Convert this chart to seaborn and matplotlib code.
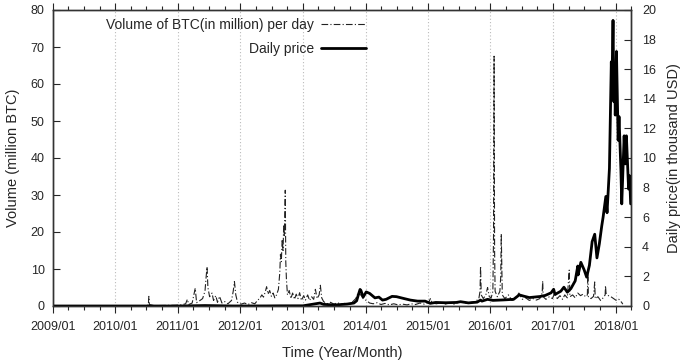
import matplotlib
matplotlib.use("Agg")
import matplotlib.pyplot as plt
import matplotlib.dates as mdates
import seaborn as sns
import pandas as pd

# ---------------- data ----------------
vol_dates = [
    "2009-01-01", "2010-07-01", "2010-07-12", "2010-07-15", "2010-07-18", "2010-08-15",
    "2010-10-15", "2010-12-15", "2011-01-20", "2011-02-15", "2011-02-25", "2011-03-05",
    "2011-03-25", "2011-04-12", "2011-04-20", "2011-05-10", "2011-05-25", "2011-06-08",
    "2011-06-14", "2011-06-20", "2011-06-25", "2011-07-05", "2011-07-19", "2011-07-28",
    "2011-08-10", "2011-08-20", "2011-09-01", "2011-09-15", "2011-10-01", "2011-10-20",
    "2011-11-10", "2011-11-20", "2011-11-27", "2011-12-05", "2011-12-15", "2012-01-05",
    "2012-01-25", "2012-02-15", "2012-03-05", "2012-03-25", "2012-04-10", "2012-04-25",
    "2012-05-05", "2012-05-15", "2012-05-25", "2012-06-02", "2012-06-10", "2012-06-20",
    "2012-06-30", "2012-07-10", "2012-07-20", "2012-07-30", "2012-08-10", "2012-08-18",
    "2012-08-22", "2012-08-27", "2012-09-01", "2012-09-06", "2012-09-10", "2012-09-14",
    "2012-09-19", "2012-09-22", "2012-09-26", "2012-10-02", "2012-10-12", "2012-10-22",
    "2012-11-01", "2012-11-12", "2012-11-22", "2012-12-02", "2012-12-12", "2012-12-22",
    "2013-01-05", "2013-01-15", "2013-01-28", "2013-02-08", "2013-02-20", "2013-03-04",
    "2013-03-14", "2013-03-24", "2013-04-05", "2013-04-12", "2013-04-20", "2013-05-01",
    "2013-05-20", "2013-06-10", "2013-07-01", "2013-07-20", "2013-08-10", "2013-09-01",
    "2013-09-20", "2013-10-10", "2013-10-25", "2013-11-05", "2013-11-18", "2013-11-28",
    "2013-12-08", "2013-12-18", "2014-01-05", "2014-01-25", "2014-02-15", "2014-03-10",
    "2014-04-01", "2014-04-25", "2014-05-20", "2014-06-15", "2014-07-10", "2014-08-05",
    "2014-09-01", "2014-09-25", "2014-10-20", "2014-11-15", "2014-12-10", "2015-01-05",
    "2015-01-15", "2015-01-25", "2015-02-20", "2015-03-15", "2015-04-10", "2015-05-05",
    "2015-06-01", "2015-06-25", "2015-07-20", "2015-08-15", "2015-09-10", "2015-10-05",
    "2015-10-25", "2015-11-01", "2015-11-04", "2015-11-08", "2015-11-20", "2015-12-05",
    "2015-12-15", "2015-12-25", "2016-01-05", "2016-01-15", "2016-01-19", "2016-01-22",
    "2016-01-25", "2016-01-28", "2016-02-10", "2016-02-25", "2016-03-01", "2016-03-04",
    "2016-03-07", "2016-03-10", "2016-03-25", "2016-04-15", "2016-05-05", "2016-05-25",
    "2016-06-15", "2016-07-05", "2016-07-25", "2016-08-15", "2016-09-05", "2016-09-25",
    "2016-10-15", "2016-10-29", "2016-11-01", "2016-11-04", "2016-11-20", "2016-12-10",
    "2016-12-28", "2017-01-10", "2017-01-25", "2017-02-10", "2017-02-25", "2017-03-10",
    "2017-03-25", "2017-04-05", "2017-04-09", "2017-04-25", "2017-05-10", "2017-05-25",
    "2017-06-10", "2017-06-25", "2017-07-10", "2017-07-20", "2017-07-23", "2017-07-26",
    "2017-08-10", "2017-08-25", "2017-09-01", "2017-09-04", "2017-09-20", "2017-10-05",
    "2017-10-20", "2017-11-01", "2017-11-03", "2017-11-06", "2017-11-20", "2017-12-05",
    "2017-12-20", "2018-01-05", "2018-01-20", "2018-02-05", "2018-02-12",
]
vol_values = [
    0.0, 0.0, 0.3, 2.6, 0.4, 0.1,
    0.15, 0.2, 0.3, 0.6, 1.8, 0.4,
    0.8, 4.8, 0.9, 1.5, 2.0, 4.0,
    7.5, 10.6, 5.0, 2.5, 3.5, 1.5,
    2.8, 1.0, 2.6, 0.8, 1.2, 0.6,
    1.5, 4.0, 6.6, 3.0, 1.0, 0.5,
    0.8, 0.4, 0.9, 0.6, 1.5, 2.2,
    3.0, 2.4, 3.8, 5.2, 3.2, 4.2,
    2.6, 3.5, 2.2, 3.0, 4.5, 9.0,
    14.0, 12.0, 18.0, 15.0, 22.0, 19.0,
    31.3, 12.0, 7.0, 3.0, 4.2, 2.0,
    3.5, 1.8, 3.2, 2.0, 3.6, 1.5,
    2.8, 1.6, 3.0, 1.5, 2.5, 1.8,
    4.5, 2.0, 3.0, 5.6, 2.2, 1.2,
    0.6, 1.0, 0.5, 0.9, 0.5, 0.7,
    0.4, 0.8, 1.5, 2.0, 3.5, 3.2,
    2.8, 2.0, 1.5, 0.8, 0.6, 0.9,
    0.4, 0.7, 0.3, 0.6, 0.3, 0.5,
    0.3, 0.6, 0.4, 0.8, 0.5, 1.0,
    2.0, 0.8, 0.6, 0.9, 0.5, 0.8,
    0.5, 0.9, 1.2, 0.7, 1.0, 1.2,
    2.0, 4.0, 10.8, 3.0, 2.0, 3.0,
    5.0, 2.5, 2.2, 4.0, 20.0, 67.5,
    15.0, 4.0, 2.5, 4.0, 8.0, 19.5,
    12.0, 3.0, 2.0, 3.0, 1.5, 2.0,
    3.5, 1.8, 2.2, 1.5, 2.0, 1.6,
    2.0, 3.5, 6.8, 2.5, 1.8, 2.5,
    2.0, 3.5, 2.0, 2.8, 1.8, 3.0,
    2.2, 9.7, 2.5, 3.0, 2.2, 3.5,
    2.8, 3.2, 2.5, 3.0, 8.9, 2.5,
    2.0, 2.6, 6.5, 2.0, 2.5, 1.5,
    2.2, 3.0, 5.5, 3.5, 2.8, 2.5,
    2.0, 1.5, 1.8, 1.0, 0.5,
]

price_dates = [
    "2009-01-01", "2010-07-15", "2011-01-01", "2011-06-08", "2011-11-20", "2012-06-01",
    "2012-08-15", "2013-01-01", "2013-04-10", "2013-05-01", "2013-07-05", "2013-09-15",
    "2013-10-25", "2013-11-10", "2013-11-20", "2013-11-30", "2013-12-05", "2013-12-18",
    "2014-01-05", "2014-01-25", "2014-02-25", "2014-03-20", "2014-04-10", "2014-05-01",
    "2014-06-05", "2014-07-01", "2014-08-15", "2014-09-20", "2014-11-01", "2014-12-15",
    "2015-01-14", "2015-02-15", "2015-04-15", "2015-06-15", "2015-07-10", "2015-08-25",
    "2015-10-15", "2015-11-04", "2015-11-12", "2015-12-15", "2016-01-15", "2016-03-15",
    "2016-05-15", "2016-06-17", "2016-07-15", "2016-08-15", "2016-10-15", "2016-11-15",
    "2016-12-20", "2017-01-04", "2017-01-12", "2017-02-15", "2017-03-05", "2017-03-25",
    "2017-04-15", "2017-05-10", "2017-05-25", "2017-05-27", "2017-06-12", "2017-07-01",
    "2017-07-16", "2017-08-01", "2017-08-17", "2017-09-01", "2017-09-14", "2017-09-28",
    "2017-10-12", "2017-10-20", "2017-11-05", "2017-11-12", "2017-11-26", "2017-12-07",
    "2017-12-10", "2017-12-17", "2017-12-22", "2017-12-27", "2017-12-30", "2018-01-06",
    "2018-01-16", "2018-01-21", "2018-02-01", "2018-02-06", "2018-02-20", "2018-02-26",
    "2018-03-05", "2018-03-18", "2018-03-24", "2018-03-30",
]
price_values = [
    0.0, 0.0001, 0.0003, 0.03, 0.002, 0.005,
    0.012, 0.013, 0.2, 0.11, 0.07, 0.13,
    0.2, 0.35, 0.75, 1.12, 1.05, 0.6,
    0.95, 0.85, 0.55, 0.6, 0.4, 0.45,
    0.65, 0.63, 0.5, 0.4, 0.33, 0.33,
    0.18, 0.24, 0.22, 0.24, 0.29, 0.21,
    0.26, 0.4, 0.33, 0.45, 0.38, 0.41,
    0.45, 0.75, 0.66, 0.57, 0.64, 0.71,
    0.89, 1.13, 0.78, 1.0, 1.27, 0.93,
    1.18, 1.7, 2.7, 2.1, 2.95, 2.45,
    1.95, 2.75, 4.35, 4.85, 3.25, 4.2,
    5.4, 6.0, 7.4, 6.3, 9.3, 16.5,
    14.5, 19.3, 13.8, 15.7, 12.9, 17.2,
    11.2, 12.8, 9.2, 6.9, 11.5, 9.6,
    11.5, 7.9, 8.8, 6.9,
]

left_ticks = [0, 10, 20, 30, 40, 50, 60, 70, 80]
right_ticks = [0, 2, 4, 6, 8, 10, 12, 14, 16, 18, 20]

vol_df = pd.DataFrame({"date": pd.to_datetime(vol_dates), "volume": vol_values})
price_df = pd.DataFrame({"date": pd.to_datetime(price_dates), "price": price_values})

# ---------------- style ----------------
sns.set_style("ticks")
plt.rcParams["font.family"] = ["Liberation Sans", "DejaVu Sans"]
plt.rcParams["axes.linewidth"] = 1.0

fig = plt.figure(figsize=(6.85, 3.62), dpi=100)
ax = fig.add_axes([53 / 685, 1 - 306 / 362, (631 - 53) / 685, (306 - 10) / 362])
ax2 = ax.twinx()

sns.lineplot(data=vol_df, x="date", y="volume", ax=ax, color="#222222",
             linewidth=0.8, linestyle=(0, (6, 2, 1, 2)),
             label="Volume of BTC(in million) per day", legend=False)
sns.lineplot(data=price_df, x="date", y="price", ax=ax2, color="black",
             linewidth=2.0, label="Daily price", legend=False)

xmin, xmax = pd.Timestamp("2009-01-01"), pd.Timestamp("2018-04-01")
ax.set_xlim(xmin, xmax)
ax.set_ylim(0, 80)
ax2.set_ylim(0, 20)
ax.set_yticks(left_ticks)
ax2.set_yticks(right_ticks)

ax.xaxis.set_major_locator(mdates.YearLocator())
ax.xaxis.set_major_formatter(mdates.DateFormatter("%Y/%m"))
ax.xaxis.set_minor_locator(mdates.MonthLocator(bymonth=[4, 7, 10]))

# year grid lines
for yr in range(2010, 2019):
    ax.axvline(pd.Timestamp(f"{yr}-01-01"), color="#bbbbbb", linestyle=(0, (1, 2)),
               linewidth=0.8, zorder=0)

ax.tick_params(axis="x", which="major", direction="out", length=5, top=True,
               labelsize=9, pad=6, width=0.8)
ax.tick_params(axis="x", which="minor", direction="out", length=3, top=True, width=0.8)
ax.tick_params(axis="y", which="major", direction="in", length=5, labelsize=9, width=0.8, pad=6)
ax2.tick_params(axis="y", which="major", direction="in", length=5, labelsize=9, width=0.8, pad=8)

ax.set_xlabel("Time (Year/Month)", fontsize=10.5, labelpad=9)
ax.set_ylabel("Volume (million BTC)", fontsize=10.5, labelpad=8)
ax2.set_ylabel("Daily price(in thousand USD)", fontsize=10.5, labelpad=8)

for a in (ax, ax2):
    for s in a.spines.values():
        s.set_color("#333333")
        s.set_linewidth(1.0)

h1, l1 = ax.get_legend_handles_labels()
h2, l2 = ax2.get_legend_handles_labels()
leg = ax2.legend(h1 + h2, l1 + l2, loc="upper right", bbox_to_anchor=(378 / 685, 1 - 5 / 362),
                 bbox_transform=fig.transFigure, frameon=False, markerfirst=False,
                 handlelength=3.2, fontsize=10, labelspacing=0.75, handletextpad=0.5)

fig.savefig("out.png", dpi=100)
